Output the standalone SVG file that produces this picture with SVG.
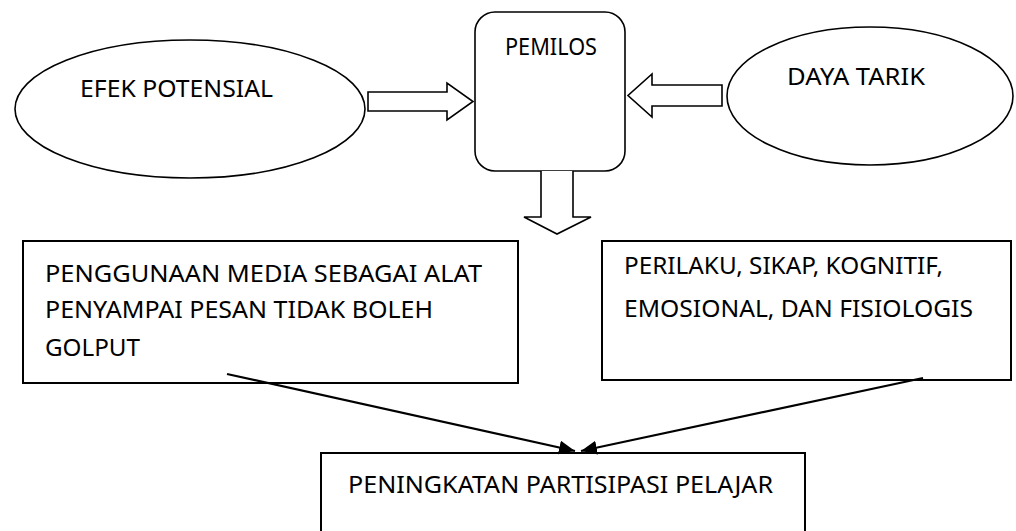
<svg xmlns="http://www.w3.org/2000/svg" width="1016" height="531" viewBox="0 0 1016 531">
<style>
text{font-family:"Noto Sans","Open Sans","Liberation Sans",sans-serif;font-size:23px;fill:#000}
.sh{fill:#fff;stroke:#000;stroke-width:1.6}
.bx{fill:#fff;stroke:#000;stroke-width:2}
.ln{stroke:#000;stroke-width:2.2;fill:none}
</style>
<defs>
<marker id="ah" markerUnits="userSpaceOnUse" markerWidth="18" markerHeight="14" refX="16" refY="7" orient="auto">
<path d="M0,0 L16,7 L0,14 Z" fill="#000"/>
</marker>
</defs>
<rect width="1016" height="531" fill="#fff"/>
<g id="efek-potensial">
<ellipse class="sh" cx="190" cy="109" rx="175" ry="69"/>
<text x="80" y="97" textLength="193" lengthAdjust="spacingAndGlyphs">EFEK POTENSIAL</text>
</g>
<g id="pemilos">
<rect class="sh" x="475" y="12" width="150" height="159" rx="20"/>
<text x="505" y="55" textLength="92" lengthAdjust="spacingAndGlyphs">PEMILOS</text>
</g>
<g id="daya-tarik">
<ellipse class="sh" cx="870" cy="96" rx="143" ry="69"/>
<text x="787" y="85" textLength="138" lengthAdjust="spacingAndGlyphs">DAYA TARIK</text>
</g>
<g id="penggunaan-media">
<rect class="bx" x="23" y="241" width="495" height="142"/>
<text x="45" y="282" textLength="437" lengthAdjust="spacingAndGlyphs">PENGGUNAAN MEDIA SEBAGAI ALAT</text>
<text x="45" y="318" textLength="388" lengthAdjust="spacingAndGlyphs">PENYAMPAI PESAN TIDAK BOLEH</text>
<text x="45" y="356" textLength="95" lengthAdjust="spacingAndGlyphs">GOLPUT</text>
</g>
<g id="perilaku">
<rect class="bx" x="602" y="241" width="409" height="139"/>
<text x="624" y="274" textLength="319" lengthAdjust="spacingAndGlyphs">PERILAKU, SIKAP, KOGNITIF,</text>
<text x="624" y="317" textLength="349" lengthAdjust="spacingAndGlyphs">EMOSIONAL, DAN FISIOLOGIS</text>
</g>
<g id="peningkatan">
<rect class="bx" x="321" y="453" width="484" height="100"/>
<text x="348" y="493" textLength="425" lengthAdjust="spacingAndGlyphs">PENINGKATAN PARTISIPASI PELAJAR</text>
</g>
<g id="connectors">
<path class="sh" d="M368,92 L447,92 L447,83 L473,101.5 L447,120 L447,111 L368,111 Z"/>
<path class="sh" d="M722,85 L652,85 L652,74 L628,95.5 L652,117 L652,106 L722,106 Z"/>
<path class="sh" d="M541,171 L541,217 L524,217 L557,234 L591,217 L573,217 L573,171"/>
<line class="ln" x1="227" y1="374" x2="575" y2="451" marker-end="url(#ah)"/>
<line class="ln" x1="923" y1="378" x2="581" y2="451" marker-end="url(#ah)"/>
</g>
</svg>
